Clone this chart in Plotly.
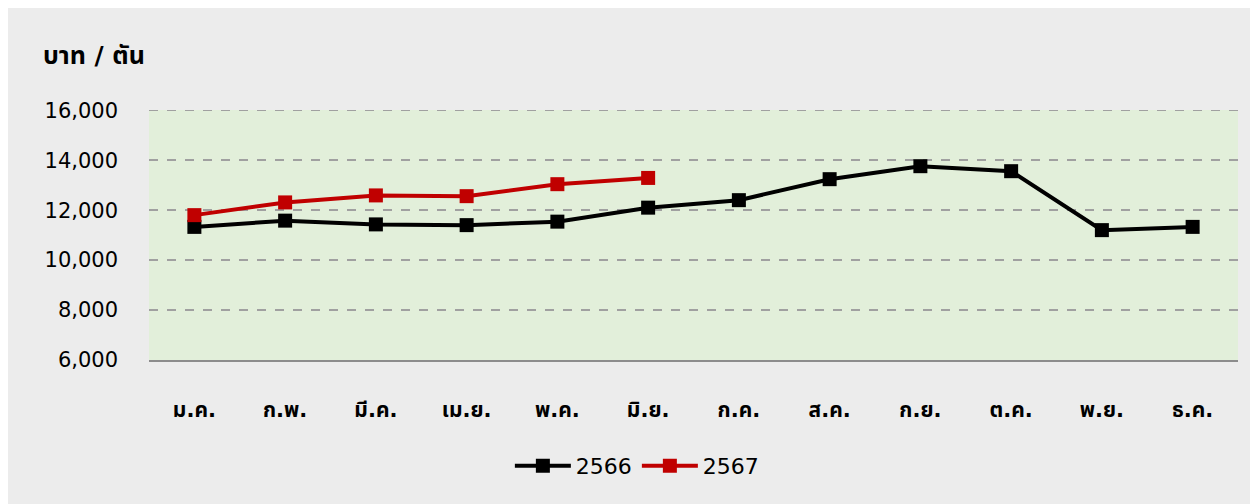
import plotly.graph_objects as go

months = ["ม.ค.", "ก.พ.", "มี.ค.", "เม.ย.", "พ.ค.", "มิ.ย.", "ก.ค.", "ส.ค.", "ก.ย.", "ต.ค.", "พ.ย.", "ธ.ค."]
y2566 = [11330, 11580, 11430, 11400, 11540, 12100, 12400, 13240, 13760, 13560, 11200, 11330]
y2567 = [11800, 12310, 12590, 12560, 13040, 13290]
yticks = [6000, 8000, 10000, 12000, 14000, 16000]

FONT = "Tahoma, Leelawadee UI, DejaVu Sans, Noto Sans Thai, sans-serif"

fig = go.Figure()
fig.add_trace(go.Scatter(
    x=months, y=y2566, name="2566", mode="lines+markers",
    line=dict(color="#000000", width=4),
    marker=dict(symbol="square", size=14, color="#000000"),
))
fig.add_trace(go.Scatter(
    x=months[:len(y2567)], y=y2567, name="2567", mode="lines+markers",
    line=dict(color="#C00000", width=4),
    marker=dict(symbol="square", size=14, color="#C00000"),
))

fig.update_layout(
    width=1250, height=496,
    paper_bgcolor="#ECECEC", plot_bgcolor="#E2EFDA",
    margin=dict(l=141, r=20, t=102, b=144),
    font=dict(family=FONT, size=21, color="#000000"),
    showlegend=True,
    legend=dict(orientation="h", x=0.448, xanchor="center", y=-0.424, yanchor="middle",
                font=dict(size=22), bgcolor="rgba(0,0,0,0)", itemwidth=56),
    annotations=[dict(text="<b>บาท / ตัน</b>", xref="paper", yref="paper",
                      x=-0.099, y=1.22, xanchor="left", yanchor="middle",
                      showarrow=False, font=dict(size=25))],
    shapes=[dict(type="line", xref="paper", yref="y", x0=0, x1=1,
                 y0=yticks[-1], y1=yticks[-1],
                 line=dict(color="#A0A0A0", width=1.5, dash="dash"), layer="below")],
)
fig.update_xaxes(
    type="category", categoryorder="array", categoryarray=months,
    range=[-0.5, 11.5], showgrid=False, showline=True, linecolor="#8C8C8C", linewidth=1.5,
    ticks="", ticklabelstandoff=30, tickfont=dict(size=21, weight="bold"), zeroline=False,
)
fig.update_yaxes(
    range=[6000, 16010], tickvals=yticks, tickformat=",d",
    showgrid=True, gridcolor="#A0A0A0", griddash="dash", gridwidth=1.5,
    ticks="", ticklabelstandoff=30, tickfont=dict(size=21), zeroline=False, showline=False,
)

fig.write_html("out.html")
